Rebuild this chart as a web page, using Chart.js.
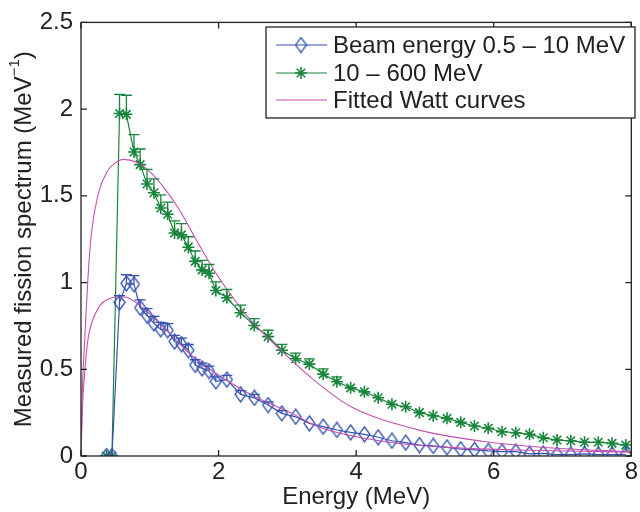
<!DOCTYPE html>
<html><head><meta charset="utf-8">
<script src="https://cdn.jsdelivr.net/npm/chart.js@4.4.1/dist/chart.umd.min.js"></script>
<style>html,body{margin:0;padding:0;background:#fff}</style>
</head><body>
<canvas id="c" width="640" height="512"></canvas>
<script>
// ---------- data ----------
const energy = [0.37,0.45,0.56,0.66,0.77,0.86,0.96,1.06,1.16,1.26,1.36,1.46,1.56,1.66,1.76,1.86,1.96,2.12,2.32,2.52,2.72,2.92,3.12,3.32,3.52,3.72,3.92,4.12,4.32,4.52,4.72,4.92,5.12,5.32,5.52,5.72,5.92,6.12,6.32,6.52,6.72,6.92,7.12,7.32,7.52,7.72,7.92];
const lowBeam = [0,0,0.885,0.995,0.99,0.855,0.81,0.765,0.73,0.725,0.66,0.645,0.61,0.525,0.505,0.49,0.43,0.44,0.355,0.335,0.294,0.246,0.226,0.188,0.169,0.15,0.136,0.125,0.108,0.088,0.077,0.063,0.058,0.05,0.039,0.035,0.029,0.025,0.025,0.012,0.015,0.008,0.008,0.012,0.008,0.008,0.008];
const highBeam = [0,0,1.975,1.97,1.753,1.68,1.568,1.518,1.43,1.394,1.286,1.275,1.204,1.122,1.073,1.054,0.954,0.912,0.826,0.752,0.688,0.61,0.561,0.53,0.472,0.428,0.393,0.37,0.336,0.298,0.284,0.25,0.232,0.217,0.194,0.173,0.16,0.14,0.134,0.125,0.105,0.092,0.088,0.079,0.079,0.073,0.063];
const lowErr = [0,0,0.04,0.05,0.05,0.045,0.04,0.04,0.04,0.038,0.036,0.035,0.033,0.03,0.03,0.028,0.026,0.025,0.022,0.02,0.018,0.016,0,0,0,0,0,0,0,0,0,0,0,0,0,0,0,0,0,0,0,0,0,0,0,0,0];
const highErr = [0,0,0.11,0.11,0.1,0.09,0.085,0.08,0.075,0.07,0.07,0.065,0.06,0.06,0.055,0.05,0.05,0.048,0.044,0.04,0.037,0.034,0.032,0.03,0.03,0.028,0,0,0,0,0,0,0,0,0,0,0,0,0,0,0,0,0,0,0,0,0];
const fitHighE = [0,0.02,0.054,0.1,0.15,0.25,0.38,0.5,0.62,0.8,1.0,1.2,1.43,1.67,1.92,2.16,2.45,2.93,3.41,3.9,4.86,5.83,6.79,8.0];
const fitHighV = [0,0.38,0.668,1.02,1.28,1.51,1.64,1.69,1.71,1.695,1.64,1.55,1.42,1.25,1.08,0.94,0.79,0.6,0.43,0.29,0.155,0.085,0.048,0.025];
const fitLowE = [0,0.02,0.054,0.1,0.15,0.28,0.4,0.55,0.7,0.85,1.145,1.63,2.11,2.5,3.07,3.41,4.38,5.34,6.31,7.28,8.0];
const fitLowV = [0,0.27,0.48,0.67,0.76,0.87,0.905,0.918,0.91,0.87,0.764,0.572,0.438,0.348,0.245,0.175,0.085,0.05,0.035,0.027,0.022];
const xTicks = [0,2,4,6,8];
const yTicks = [0,0.5,1,1.5,2,2.5];
const seriesLabels = ['Beam energy 0.5 \u2013 10 MeV','10 \u2013 600 MeV','Fitted Watt curves'];
const xTitle = 'Energy (MeV)';
const yTitleMain = 'Measured fission spectrum (MeV';
const yTitleSup = '\u22121';
const yTitleEnd = ')';

// ---------- styles ----------
const BLUE = '#3553b0', GREEN = '#17853a', PINK = '#c54fae', INK = '#222';
const FONT = '"Liberation Sans", Arial, Helvetica, sans-serif';
const FS = 24;

function diamondCanvas(color){
  const c = document.createElement('canvas'); c.width = 13; c.height = 17;
  const g = c.getContext('2d'); g.strokeStyle = color; g.lineWidth = 1.3;
  g.beginPath(); g.moveTo(6.5,1); g.lineTo(12,8.5); g.lineTo(6.5,16); g.lineTo(1,8.5); g.closePath(); g.stroke();
  return c;
}
const diamond = diamondCanvas(BLUE);
const pts = (xs, ys) => xs.map((x,i)=>({x:x, y:ys[i]}));

const errorBars = {
  id:'errorBars',
  afterDatasetsDraw(chart){
    const {ctx, scales:{x, y}} = chart;
    const sets = [[lowBeam, lowErr, BLUE],[highBeam, highErr, GREEN]];
    ctx.save(); ctx.lineWidth = 1.3;
    sets.forEach(([vals, errs, col])=>{
      ctx.strokeStyle = col;
      energy.forEach((e,i)=>{
        if(!errs[i]) return;
        const px = x.getPixelForValue(e), p0 = y.getPixelForValue(vals[i]), p1 = y.getPixelForValue(vals[i]+errs[i]);
        ctx.beginPath(); ctx.moveTo(px,p0); ctx.lineTo(px,p1);
        ctx.moveTo(px-5.5,p1); ctx.lineTo(px+5.5,p1); ctx.stroke();
      });
    });
    ctx.restore();
  }
};

const frame = {
  id:'frame',
  afterDraw(chart){
    const {ctx, chartArea:a, scales:{x, y}} = chart;
    ctx.save();
    ctx.strokeStyle = INK; ctx.lineWidth = 1.3;
    ctx.strokeRect(a.left, a.top, a.right-a.left, a.bottom-a.top);
    ctx.beginPath();
    xTicks.forEach(v=>{ const p = x.getPixelForValue(v);
      ctx.moveTo(p,a.bottom); ctx.lineTo(p,a.bottom-6); ctx.moveTo(p,a.top); ctx.lineTo(p,a.top+6); });
    yTicks.forEach(v=>{ const p = y.getPixelForValue(v);
      ctx.moveTo(a.left,p); ctx.lineTo(a.left+6,p); ctx.moveTo(a.right,p); ctx.lineTo(a.right-6,p); });
    ctx.stroke();
    // axis titles
    ctx.fillStyle = INK; ctx.font = FS+'px '+FONT; ctx.textBaseline = 'middle'; ctx.textAlign = 'center';
    ctx.fillText(xTitle, (a.left+a.right)/2, 497);
    ctx.translate(24, (a.top+a.bottom)/2); ctx.rotate(-Math.PI/2);
    const w1 = ctx.measureText(yTitleMain).width;
    ctx.font = '15px '+FONT; const w2 = ctx.measureText(yTitleSup).width;
    ctx.font = FS+'px '+FONT; const w3 = ctx.measureText(yTitleEnd).width;
    let sx = -(w1+w2+w3)/2; ctx.textAlign = 'left';
    ctx.fillText(yTitleMain, sx, 0); sx += w1;
    ctx.font = '15px '+FONT; ctx.fillText(yTitleSup, sx, -9); sx += w2;
    ctx.font = FS+'px '+FONT; ctx.fillText(yTitleEnd, sx, 0);
    ctx.restore();
    // legend
    ctx.save();
    const L = 266, T = 27, R = 635, B = 118;
    ctx.fillStyle = '#fff'; ctx.fillRect(L,T,R-L,B-T);
    ctx.strokeStyle = INK; ctx.lineWidth = 1.3; ctx.strokeRect(L,T,R-L,B-T);
    const rows = [45, 73, 100];
    const cols = [BLUE, GREEN, PINK];
    rows.forEach((ry,i)=>{
      ctx.strokeStyle = cols[i]; ctx.lineWidth = 1.1;
      ctx.beginPath(); ctx.moveTo(276, ry); ctx.lineTo(327, ry); ctx.stroke();
      if(i===0){ ctx.drawImage(diamond, 301-6.5, ry-8.5); }
      if(i===1){ ctx.lineWidth = 1.6; ctx.beginPath();
        const r=6; ctx.moveTo(301-r,ry); ctx.lineTo(301+r,ry); ctx.moveTo(301,ry-r); ctx.lineTo(301,ry+r);
        const d=r*0.707; ctx.moveTo(301-d,ry-d); ctx.lineTo(301+d,ry+d); ctx.moveTo(301-d,ry+d); ctx.lineTo(301+d,ry-d); ctx.stroke(); }
      ctx.fillStyle = INK; ctx.font = FS+'px '+FONT; ctx.textAlign='left'; ctx.textBaseline='middle';
      ctx.fillText(seriesLabels[i], 333, ry+1);
    });
    ctx.restore();
  }
};

new Chart(document.getElementById('c'), {
  type:'line',
  data:{ datasets:[
    {label:seriesLabels[0], data:pts(energy, lowBeam), borderColor:BLUE, borderWidth:1.2, pointStyle:diamond, pointRadius:7, tension:0, order:2},
    {label:seriesLabels[1], data:pts(energy, highBeam), borderColor:GREEN, backgroundColor:GREEN, borderWidth:1.2, pointStyle:'star', pointRadius:6, pointBorderWidth:1.6, tension:0, order:3},
    {label:seriesLabels[2], data:pts(fitHighE, fitHighV), borderColor:PINK, borderWidth:1.1, pointRadius:0, cubicInterpolationMode:'monotone', order:1},
    {label:seriesLabels[2], data:pts(fitLowE, fitLowV), borderColor:PINK, borderWidth:1.1, pointRadius:0, cubicInterpolationMode:'monotone', order:1}
  ]},
  options:{
    responsive:false, animation:false, devicePixelRatio:1,
    layout:{padding:{left:0, top:21, right:6, bottom:0}},
    plugins:{legend:{display:false}, tooltip:{enabled:false}},
    scales:{
      x:{type:'linear', min:0, max:8, afterBuildTicks:s=>{s.ticks = xTicks.map(v=>({value:v}));},
         grid:{display:false, drawTicks:false}, border:{display:false},
         ticks:{font:{size:FS, family:FONT}, color:INK, padding:2, maxRotation:0, callback:v=>String(v)},
         afterFit:s=>{s.height = 56;}},
      y:{type:'linear', min:0, max:2.5, afterBuildTicks:s=>{s.ticks = yTicks.map(v=>({value:v}));},
         grid:{display:false, drawTicks:false}, border:{display:false},
         ticks:{font:{size:FS, family:FONT}, color:INK, padding:8, callback:v=>String(v)},
         afterFit:s=>{s.width = 81;}}
    }
  },
  plugins:[errorBars, frame]
});
</script>
</body></html>
